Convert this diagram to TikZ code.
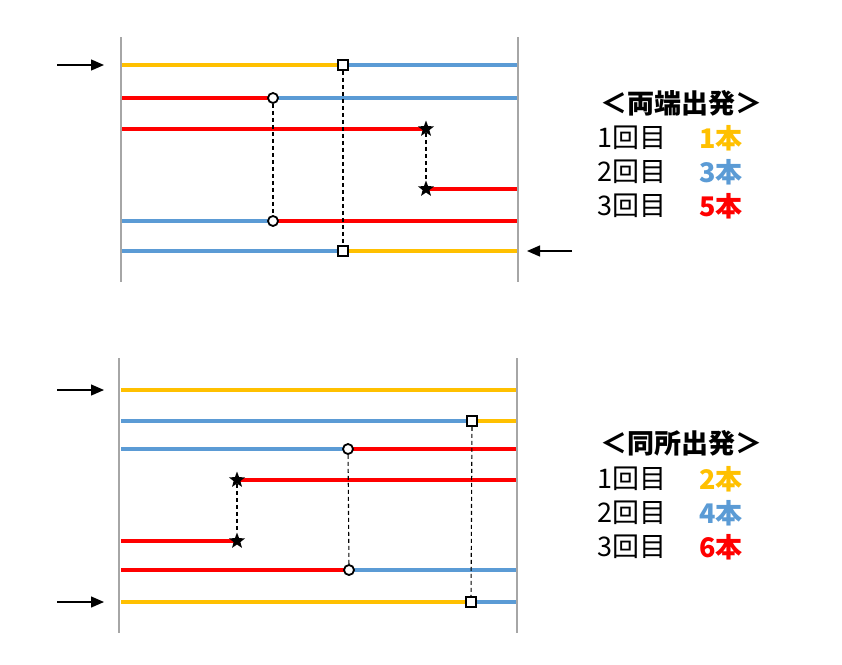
\documentclass[tikz,border=0pt]{standalone}
\usepackage{fontspec}
\setmainfont{Noto Sans CJK JP}
\usepackage{xcolor}
\usepackage{tikz}
\usetikzlibrary{shapes.geometric,arrows.meta,backgrounds}

\definecolor{lineyellow}{HTML}{FFC000}
\definecolor{lineblue}{HTML}{5B9BD5}
\definecolor{linered}{HTML}{FF0000}
\definecolor{wallgray}{HTML}{A6A6A6}

\begin{document}
\begin{tikzpicture}[x=1pt, y=-1pt]
    \tikzstyle{wall} = [draw=wallgray, line width=1.8pt]
    \tikzstyle{yel} = [draw=lineyellow, line width=4.8pt]
    \tikzstyle{blu} = [draw=lineblue, line width=4.8pt]
    \tikzstyle{rd} = [draw=linered, line width=4.8pt]
    \tikzstyle{sq} = [rectangle, draw=black, fill=white, line width=1.8pt, minimum size=10pt, inner sep=0pt]
    \tikzstyle{ring} = [circle, draw=black, fill=white, line width=1.8pt, minimum size=10pt, inner sep=0pt]
    \tikzstyle{starmark} = [star, star points=5, star point ratio=2.4, fill=black, minimum size=17pt, inner sep=0pt]
    \tikzstyle{link} = [draw=black, dash pattern=on 4pt off 3pt, line width=1.1pt]
    \tikzstyle{arrow} = [line width=1.3pt, -{Triangle[length=13pt, width=11pt]}]
    \tikzstyle{txt} = [anchor=west, inner sep=0pt, font=\fontsize{27}{31}\selectfont]
    \tikzstyle{num} = [anchor=west, inner sep=0pt, font=\fontsize{27}{31}\selectfont\bfseries]
    \tikzstyle{head} = [inner sep=0pt, font=\fontsize{27}{31}\selectfont\bfseries]

    \useasboundingbox (0,0) rectangle (842,664);

    % Top: both ends
    \draw [wall] (121,37) -- (121,282);
    \draw [wall] (518,37) -- (518,282);

    \node [sq] (tsqa) at (343,65) {};
    \node [ring] (tcia) at (273,98) {};
    \node [starmark] (tsta) at (426,129) {};
    \node [starmark] (tstb) at (426,189) {};
    \node [ring] (tcib) at (273,221) {};
    \node [sq] (tsqb) at (343,251) {};

    \begin{scope}[on background layer]
        \draw [yel] (121,65) -- (tsqa.center);
        \draw [blu] (tsqa.center) -- (518,65);
        \draw [rd] (121,98) -- (tcia.center);
        \draw [blu] (tcia.center) -- (518,98);
        \draw [rd] (121,129) -- (tsta.center);
        \draw [rd] (tstb.center) -- (518,189);
        \draw [blu] (121,221) -- (tcib.center);
        \draw [rd] (tcib.center) -- (518,221);
        \draw [blu] (121,251) -- (tsqb.center);
        \draw [yel] (tsqb.center) -- (518,251);
    \end{scope}

    \draw [link] (tcia) -- (tcib);
    \draw [link] (tsqa) -- (tsqb);
    \draw [link] (tsta) -- (tstb);

    \coordinate (tina) at (57,65);
    \coordinate (tinb) at (572,251);
    \draw [arrow] (tina) -- (104,65);
    \draw [arrow] (tinb) -- (527,251);

    % Bottom: same place
    \draw [wall] (119,358) -- (119,633);
    \draw [wall] (517,358) -- (517,633);

    \node [sq] (bsqa) at (472,421) {};
    \node [ring] (bcia) at (348,449) {};
    \node [starmark] (bsta) at (237,480) {};
    \node [starmark] (bstb) at (237,541) {};
    \node [ring] (bcib) at (349,570) {};
    \node [sq] (bsqb) at (471,602) {};

    \begin{scope}[on background layer]
        \draw [yel] (121,390) -- (517,390);
        \draw [blu] (121,421) -- (bsqa.center);
        \draw [yel] (bsqa.center) -- (517,421);
        \draw [blu] (121,449) -- (bcia.center);
        \draw [rd] (bcia.center) -- (517,449);
        \draw [rd] (bsta.center) -- (517,480);
        \draw [rd] (121,541) -- (bstb.center);
        \draw [rd] (121,570) -- (bcib.center);
        \draw [blu] (bcib.center) -- (517,570);
        \draw [yel] (121,602) -- (bsqb.center);
        \draw [blu] (bsqb.center) -- (517,602);
    \end{scope}

    \draw [link] (bsqa) -- (bsqb);
    \draw [link] (bcia) -- (bcib);
    \draw [link] (bsta) -- (bstb);

    \coordinate (bina) at (57,390);
    \coordinate (binb) at (57,602);
    \draw [arrow] (bina) -- (104,390);
    \draw [arrow] (binb) -- (104,602);

    % Legends
    \node [head] (theadl) at (681,103) {＜両端出発＞};
    \node [txt] (tra) at (597,138) {1回目};
    \node [txt] (trb) at (597,172) {2回目};
    \node [txt] (trc) at (597,206) {3回目};
    \node [num, text=lineyellow] (tna) at (699,138) {1本};
    \node [num, text=lineblue] (tnb) at (699,172) {3本};
    \node [num, text=linered] (tnc) at (699,206) {5本};

    \node [head] (bheadl) at (681,443) {＜同所出発＞};
    \node [txt] (bra) at (597,479) {1回目};
    \node [txt] (brb) at (597,513) {2回目};
    \node [txt] (brc) at (597,547) {3回目};
    \node [num, text=lineyellow] (bna) at (699,479) {2本};
    \node [num, text=lineblue] (bnb) at (699,513) {4本};
    \node [num, text=linered] (bnc) at (699,547) {6本};
\end{tikzpicture}
\end{document}
